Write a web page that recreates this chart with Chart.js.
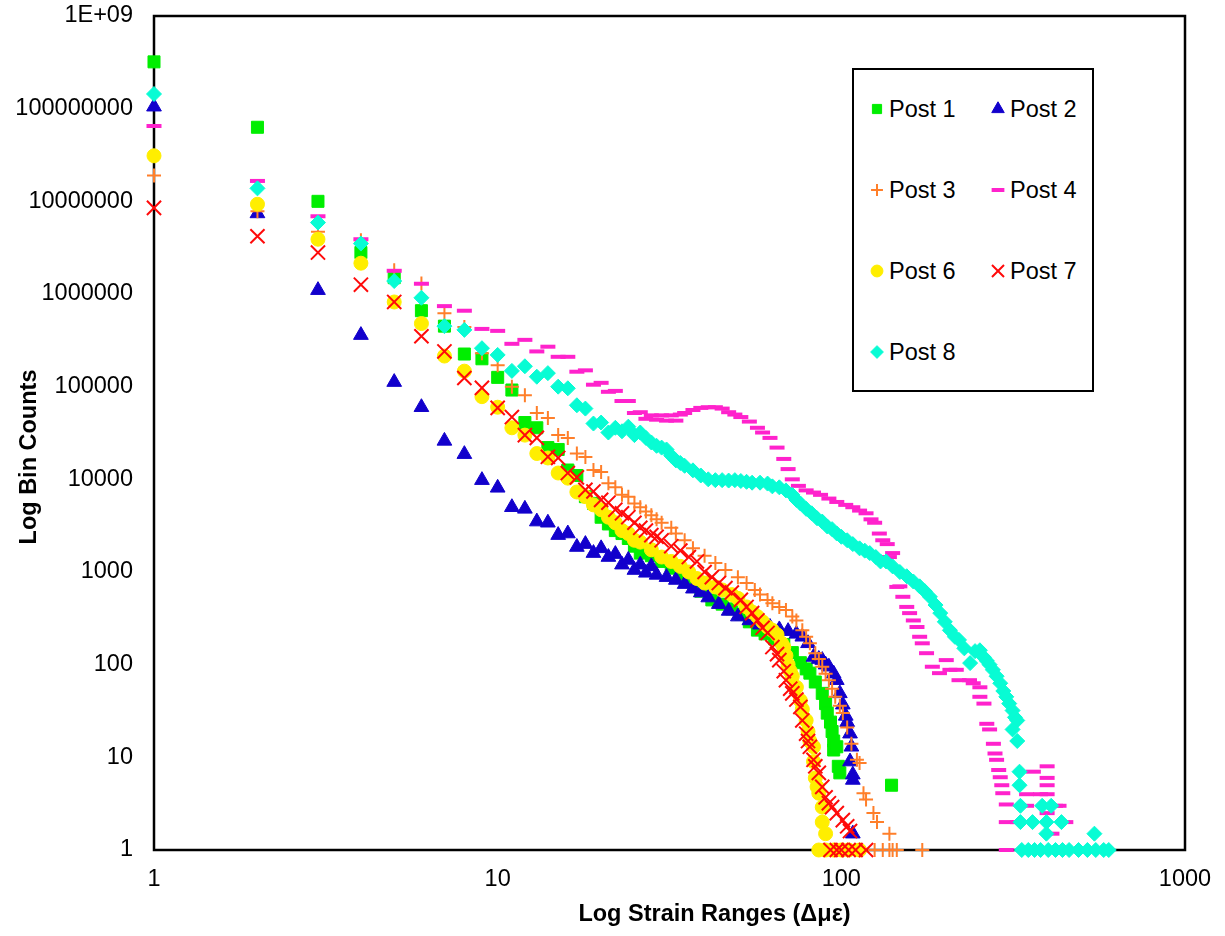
<!DOCTYPE html>
<html lang="en">
<head>
    <meta charset="UTF-8">
    <title>Log Bin Counts vs Log Strain Ranges</title>
    <script src="https://cdn.jsdelivr.net/npm/chart.js@4.4.1/dist/chart.umd.min.js"></script>
    <style>
        body {
            margin: 0;
            background: #fff;
        }
        .wrap {
            position: relative;
            width: 1225px;
            height: 936px;
        }
        #legendBox {
            position: absolute;
            left: 852px;
            top: 68px;
            width: 242px;
            height: 324px;
            box-sizing: border-box;
            border: 2px solid #000;
            background: #fff;
            font-family: 'Liberation Sans', Arial, sans-serif;
            font-size: 23.5px;
            color: #000;
        }
        .item {
            position: absolute;
            height: 28px;
            display: flex;
            align-items: center;
            white-space: nowrap;
        }
        .item canvas {
            width: 24px;
            height: 24px;
        }
    </style>
</head>
<body>
    <div class="wrap">
        <canvas id="binChart" width="1225" height="936"></canvas>
        <div id="legendBox"></div>
    </div>

    <script>
        // values: [strain range, bin count]
        const seriesNames = ['Post 1', 'Post 2', 'Post 3', 'Post 4', 'Post 6', 'Post 7', 'Post 8'];

        const post1 = [[1,3.2e8],[2,6.3e7],[3,1.0e7],[4,2.8e6],[5,1.5e6],[6,6.6e5],[7,4.5e5],[8,2.25e5],[9,2.0e5],[10,1.26e5],
            [11,9.2e4],[12,4.1e4],[13,3.6e4],[14,2.2e4],[15,2.1e4],[16,1.26e4],[17,1.1e4],[18,6.5e3],[19,5.5e3],[20,3.9e3],
            [21,3.3e3],[22,2.8e3],[23,2.6e3],[24,2.3e3],[25,1.9e3],[26,1.6e3],[28,1.5e3],[30,1.3e3],[32,1.1e3],[34,950],
            [36,800],[39,620],[42,500],[45,450],[48,400],[51,350],[54,290],[57,236],[60,215],[64,190],[68,165],[72,135],
            [76,105],[79,90],[81,81],[84,65],[88,49],[90,38],[91,30],[93,24],[94,19],[95,15],[95,12],[97,13],[98,8],[99,6.8],[140,5]];

        const post2 = [[1,1.05e8],[2,7.4e6],[3,1.1e6],[4,3.6e5],[5,1.12e5],[6,6.0e4],[7,2.6e4],[8,1.87e4],[9,9.8e3],[10,8.1e3],
            [11,5.0e3],[12,4.8e3],[13,3.5e3],[14,3.4e3],[15,2.5e3],[16,2.6e3],[17,1.86e3],[18,2.0e3],[19,1.6e3],[20,1.8e3],
            [21,1.45e3],[22,1.56e3],[23,1.2e3],[24,1.35e3],[25,1.05e3],[26,1.2e3],[27,980],[28,1.15e3],[29,930],[31,880],
            [33,820],[35,740],[37,660],[39,600],[41,530],[44,450],[47,380],[50,330],[54,300],[58,270],[62,255],[66,240],
            [70,230],[74,215],[77,200],[80,170],[83,121],[86,115],[88,112],[90,100],[92,95],[95,80],[97,68],[99,49],
            [101,37],[103,28],[104,24],[106,18],[107,13],[106,9],[108,6.5],[108,5.7],[108,1.5]];

        const post3 = [[1,1.9e7],[2,7.8e6],[3,4.7e6],[4,3.8e6],[5,1.8e6],[6,1.3e6],[7,6.2e5],[8,4.4e5],[9,2.3e5],[10,1.7e5],
            [11,1.0e5],[12,8.1e4],[13,5.2e4],[14,4.6e4],[15,3.0e4],[16,2.8e4],[17,1.9e4],[18,1.74e4],[19,1.26e4],[20,1.2e4],
            [21,9.1e3],[22,8.2e3],[23,6.8e3],[24,6.5e3],[25,5.5e3],[26,5.0e3],[27,4.5e3],[28,4.1e3],[29,3.7e3],[30,3.4e3],
            [32,3.0e3],[33,2.6e3],[35,2.2e3],[37,1.8e3],[40,1.5e3],[43,1.25e3],[46,1.05e3],[50,880],[53,760],[56,640],
            [58,570],[61,500],[63,460],[66,420],[69,390],[72,330],[74,300],[77,235],[79,200],[81,170],[84,133],[86,115],
            [88,95],[90,80],[92,68],[94,55],[96,45],[99,36],[101,30],[104,21],[107,14],[111,9.4],[113,8.7],[116,4.1],
            [118,3.5],[124,2.5],[127,2.0],[138,1.5],[125,1],[132,1],[138,1],[141,1],[145,1],[172,1]];

        const post4 = [[1,6.5e7],[2,1.66e7],[3,6.9e6],[4,3.9e6],[5,1.78e6],[6,1.29e6],[7,7.4e5],[8,6.6e5],[9,4.2e5],[10,4.0e5],
            [11,2.9e5],[12,3.2e5],[13,2.4e5],[14,2.7e5],[15,2.1e5],[16,2.1e5],[17,1.45e5],[18,1.5e5],[19,1.05e5],[20,1.1e5],
            [21,8.8e4],[22,9.0e4],[23,7.0e4],[24,7.0e4],[25,5.2e4],[26,5.3e4],[27,4.5e4],[28,4.9e4],[29,4.4e4],[30,4.9e4],
            [31,4.3e4],[32,4.9e4],[33,4.3e4],[34,5.0e4],[35,5.2e4],[37,5.6e4],[39,5.9e4],[41,6.0e4],[43,6.0e4],[45,5.8e4],
            [47,5.3e4],[49,5.0e4],[51,4.7e4],[54,4.2e4],[57,3.6e4],[59,3.2e4],[62,2.8e4],[65,2.2e4],[68,1.66e4],[70,1.29e4],
            [72,1.0e4],[75,8.5e3],[79,7.6e3],[83,7.2e3],[87,6.8e3],[92,6.2e3],[97,5.7e3],[103,5.3e3],[108,5.0e3],[113,4.6e3],
            [118,4.3e3],[122,3.7e3],[125,3.4e3],[129,2.6e3],[132,2.2e3],[136,2.0e3],[138,1.45e3],[141,1.6e3],[145,690],
            [148,700],[151,540],[155,420],[158,360],[162,300],[166,255],[169,200],[172,170],[177,133],[184,95],[193,81],
            [202,112],[207,88],[216,88],[220,68],[236,68],[242,63],[253,57],[253,45],[260,38],[265,23],[270,20],[277,14],
            [280,11],[283,9.4],[287,7.3],[290,6.1],[293,5],[295,4.1],[302,3.1],[302,2],[302,1],[325,2],[346,3],[346,4],
            [362,7],[380,4],[397,8],[397,6],[397,5],[397,4],[410,1.5],[397,2.5],[420,3],[430,3],[450,2]];

        const post6 = [[1,3.1e7],[2,9.3e6],[3,3.9e6],[4,2.15e6],[5,8.2e5],[6,4.8e5],[7,2.14e5],[8,1.47e5],[9,7.8e4],[10,6.0e4],
            [11,3.6e4],[12,3.0e4],[13,1.9e4],[14,1.7e4],[15,1.17e4],[16,1.03e4],[17,7.3e3],[18,6.5e3],[19,5.3e3],[20,4.7e3],
            [21,3.9e3],[22,3.4e3],[23,2.8e3],[24,2.6e3],[25,2.2e3],[26,2.1e3],[28,1.74e3],[30,1.45e3],[32,1.3e3],[34,1.15e3],
            [36,1.0e3],[38,850],[40,760],[43,690],[45,640],[48,570],[50,520],[53,420],[55,370],[57,330],[59,290],[61,255],
            [63,235],[65,210],[67,170],[68,155],[69,125],[70,100],[71,85],[72,75],[74,57],[76,41],[77,33],[79,25],[80,19],
            [81,15],[83,13],[83,9],[84,6],[85,4.8],[86,4.1],[88,2.9],[88,2],[90,1.5],[86,1],[90,1],[95,1],[100,1],[105,1],[113,1]];

        const post7 = [[1,8.5e6],[2,4.2e6],[3,2.8e6],[4,1.26e6],[5,8.2e5],[6,3.5e5],[7,2.4e5],[8,1.24e5],[9,9.7e4],[10,5.9e4],
            [11,4.7e4],[12,3.0e4],[13,2.8e4],[14,1.75e4],[15,1.7e4],[16,1.17e4],[17,1.05e4],[18,7.7e3],[19,7.4e3],[20,6.0e3],
            [21,5.6e3],[22,4.7e3],[23,4.3e3],[24,3.9e3],[25,3.4e3],[26,3.0e3],[27,2.8e3],[28,2.5e3],[29,2.4e3],[30,2.2e3],
            [32,1.9e3],[34,1.7e3],[36,1.45e3],[38,1.3e3],[40,1.0e3],[42,880],[44,760],[46,670],[48,600],[51,500],[53,420],
            [55,360],[57,300],[59,250],[61,220],[63,155],[65,130],[66,112],[68,85],[69,68],[71,55],[72,49],[74,42],[76,35],
            [77,25],[79,18],[80,15],[81,13],[83,9.4],[84,8],[86,6.8],[88,4.8],[90,3.7],[92,3.2],[94,2.9],[97,2.5],[101,2.1],
            [104,1.8],[106,1.6],[93,1],[97,1],[100,1],[105,1],[110,1],[118,1]];

        const post8 = [[1,1.44e8],[2,1.38e7],[3,5.9e6],[4,3.5e6],[5,1.38e6],[6,9.1e5],[7,4.5e5],[8,4.1e5],[9,2.6e5],[10,2.2e5],
            [11,1.48e5],[12,1.66e5],[13,1.28e5],[14,1.4e5],[15,1.0e5],[16,9.6e4],[17,6.3e4],[18,5.8e4],[19,4.0e4],[20,4.1e4],
            [21,3.2e4],[22,3.6e4],[23,3.3e4],[24,3.7e4],[25,3.0e4],[26,3.2e4],[27,2.8e4],[28,2.5e4],[29,2.3e4],[30,2.2e4],
            [31,2.1e4],[32,1.8e4],[33,1.6e4],[34,1.5e4],[35,1.4e4],[37,1.25e4],[39,1.1e4],[41,1.0e4],[43,9.8e3],[45,9.8e3],
            [47,9.7e3],[49,9.8e3],[51,9.6e3],[53,9.4e3],[55,9.2e3],[58,9.2e3],[61,9.0e3],[63,8.4e3],[66,8.2e3],[69,7.6e3],
            [72,6.8e3],[74,6.0e3],[76,5.5e3],[79,4.8e3],[82,4.3e3],[85,3.8e3],[88,3.5e3],[91,3.1e3],[94,2.9e3],[97,2.6e3],
            [100,2.4e3],[104,2.2e3],[108,2.0e3],[113,1.8e3],[117,1.7e3],[121,1.6e3],[126,1.45e3],[130,1.3e3],[135,1.3e3],
            [141,1.15e3],[148,1.0e3],[155,900],[162,790],[169,700],[175,620],[181,540],[188,440],[194,360],[200,290],
            [207,235],[214,200],[220,185],[228,150],[237,104],[245,140],[253,143],[260,120],[265,110],[270,100],[276,88],
            [283,75],[290,63],[296,52],[302,45],[308,38],[315,32],[320,27],[325,25],[315,20],[325,15],[330,7],[330,5],
            [332,3],[384,3],[408,3],[332,2],[360,2],[395,2],[437,2],[395,1.5],[545,1.5],[335,1],[350,1],[365,1],[380,1],
            [400,1],[420,1],[440,1],[460,1],[490,1],[520,1],[550,1],[580,1],[600,1]];

        const xTicks = [1, 10, 100, 1000];
        const yTicks = [1, 10, 100, 1000, 1e4, 1e5, 1e6, 1e7, 1e8, 1e9];

        const allSeries = [post1, post2, post3, post4, post6, post7, post8];
        const markers = [
            { color: '#00ee00', shape: 'rect', r: 8.5, bw: 1 },
            { color: '#1200cc', shape: 'triangle', r: 8.5, bw: 1 },
            { color: '#ff7f2a', shape: 'cross', r: 7, bw: 2 },
            { color: '#ff22cc', shape: 'line', r: 7.5, bw: 4 },
            { color: '#ffee00', shape: 'circle', r: 7, bw: 1 },
            { color: '#ff0a0a', shape: 'crossRot', r: 10, bw: 2 },
            { color: '#08fcd4', shape: 'rectRot', r: 7.5, bw: 1 }
        ];

        const fontFamily = "'Liberation Sans', Arial, sans-serif";

        const datasets = allSeries.map((pts, i) => ({
            label: seriesNames[i],
            data: pts.map(p => ({ x: p[0], y: p[1] })),
            pointStyle: markers[i].shape,
            pointRadius: markers[i].r,
            pointBorderWidth: markers[i].bw,
            backgroundColor: markers[i].color,
            borderColor: markers[i].color,
            showLine: false,
            clip: false,
            order: allSeries.length - i   // later posts drawn on top
        }));

        // plot frame, drawn under the markers
        const framePlugin = {
            id: 'frame',
            beforeDatasetsDraw(chart) {
                const a = chart.chartArea;
                const ctx = chart.ctx;
                ctx.save();
                ctx.strokeStyle = '#000';
                ctx.lineWidth = 2.5;
                ctx.strokeRect(a.left, a.top, a.right - a.left, a.bottom - a.top);
                ctx.restore();
            }
        };

        // axis titles sit a little off-centre in the original
        const titlePlugin = {
            id: 'axisTitles',
            afterDraw(chart) {
                const a = chart.chartArea;
                const ctx = chart.ctx;
                ctx.save();
                ctx.fillStyle = '#000';
                ctx.font = 'bold 23.5px ' + fontFamily;
                ctx.textAlign = 'center';
                ctx.textBaseline = 'middle';
                ctx.fillText('Log Strain Ranges (Δμε)', (a.left + a.right) / 2 + 45, a.bottom + 65);
                ctx.translate(30, (a.top + a.bottom) / 2 + 24);
                ctx.rotate(-Math.PI / 2);
                ctx.fillText('Log Bin Counts', 0, 0);
                ctx.restore();
            }
        };

        const ctx = document.getElementById('binChart').getContext('2d');
        const binChart = new Chart(ctx, {
            type: 'scatter',
            data: { datasets: datasets },
            options: {
                responsive: false,
                animation: false,
                layout: { padding: { left: 0, top: 16, right: 40, bottom: 0 } },
                plugins: {
                    legend: { display: false },
                    tooltip: { enabled: false }
                },
                scales: {
                    x: {
                        type: 'logarithmic',
                        min: 1,
                        max: 1000,
                        afterBuildTicks: s => { s.ticks = xTicks.map(v => ({ value: v })); },
                        afterFit: s => {
                            s.height = 86;
                            s.paddingLeft = 0;
                            s.paddingRight = 0;
                        },
                        grid: { display: false, drawTicks: false },
                        border: { display: false },
                        ticks: {
                            color: '#000',
                            font: { family: fontFamily, size: 23.5 },
                            padding: 15,
                            maxRotation: 0,
                            autoSkip: false,
                            callback: v => String(v)
                        }
                    },
                    y: {
                        type: 'logarithmic',
                        min: 1,
                        max: 1e9,
                        afterBuildTicks: s => { s.ticks = yTicks.map(v => ({ value: v })); },
                        afterFit: s => {
                            s.width = 154;
                            s.paddingTop = 0;
                            s.paddingBottom = 0;
                        },
                        grid: { display: false, drawTicks: false },
                        border: { display: false },
                        ticks: {
                            color: '#000',
                            font: { family: fontFamily, size: 23.5 },
                            padding: 21,
                            autoSkip: false,
                            callback: v => (v === 1e9 ? '1E+09' : String(v))
                        }
                    }
                }
            },
            plugins: [framePlugin, titlePlugin]
        });

        // two-column legend box inside the plot
        function buildLegend(chart) {
            const box = document.getElementById('legendBox');
            chart.data.datasets.forEach((ds, i) => {
                const item = document.createElement('div');
                item.className = 'item';
                item.style.left = (11 + (i % 2) * 121) + 'px';
                item.style.top = (25 + Math.floor(i / 2) * 81) + 'px';

                const c = document.createElement('canvas');
                c.width = 24;
                c.height = 24;
                const mctx = c.getContext('2d');
                mctx.fillStyle = ds.backgroundColor;
                mctx.strokeStyle = ds.borderColor;
                mctx.lineWidth = ds.pointBorderWidth;
                if (Chart.helpers && Chart.helpers.drawPoint) {
                    Chart.helpers.drawPoint(mctx, {
                        pointStyle: ds.pointStyle,
                        radius: ds.pointStyle === 'rect' ? 6.5 : ds.pointRadius * 0.85,
                        borderWidth: ds.pointBorderWidth,
                        rotation: 0
                    }, 12, 12);
                }

                const label = document.createElement('span');
                label.textContent = ds.label;

                item.appendChild(c);
                item.appendChild(label);
                box.appendChild(item);
            });
        }
        buildLegend(binChart);
    </script>
</body>
</html>
